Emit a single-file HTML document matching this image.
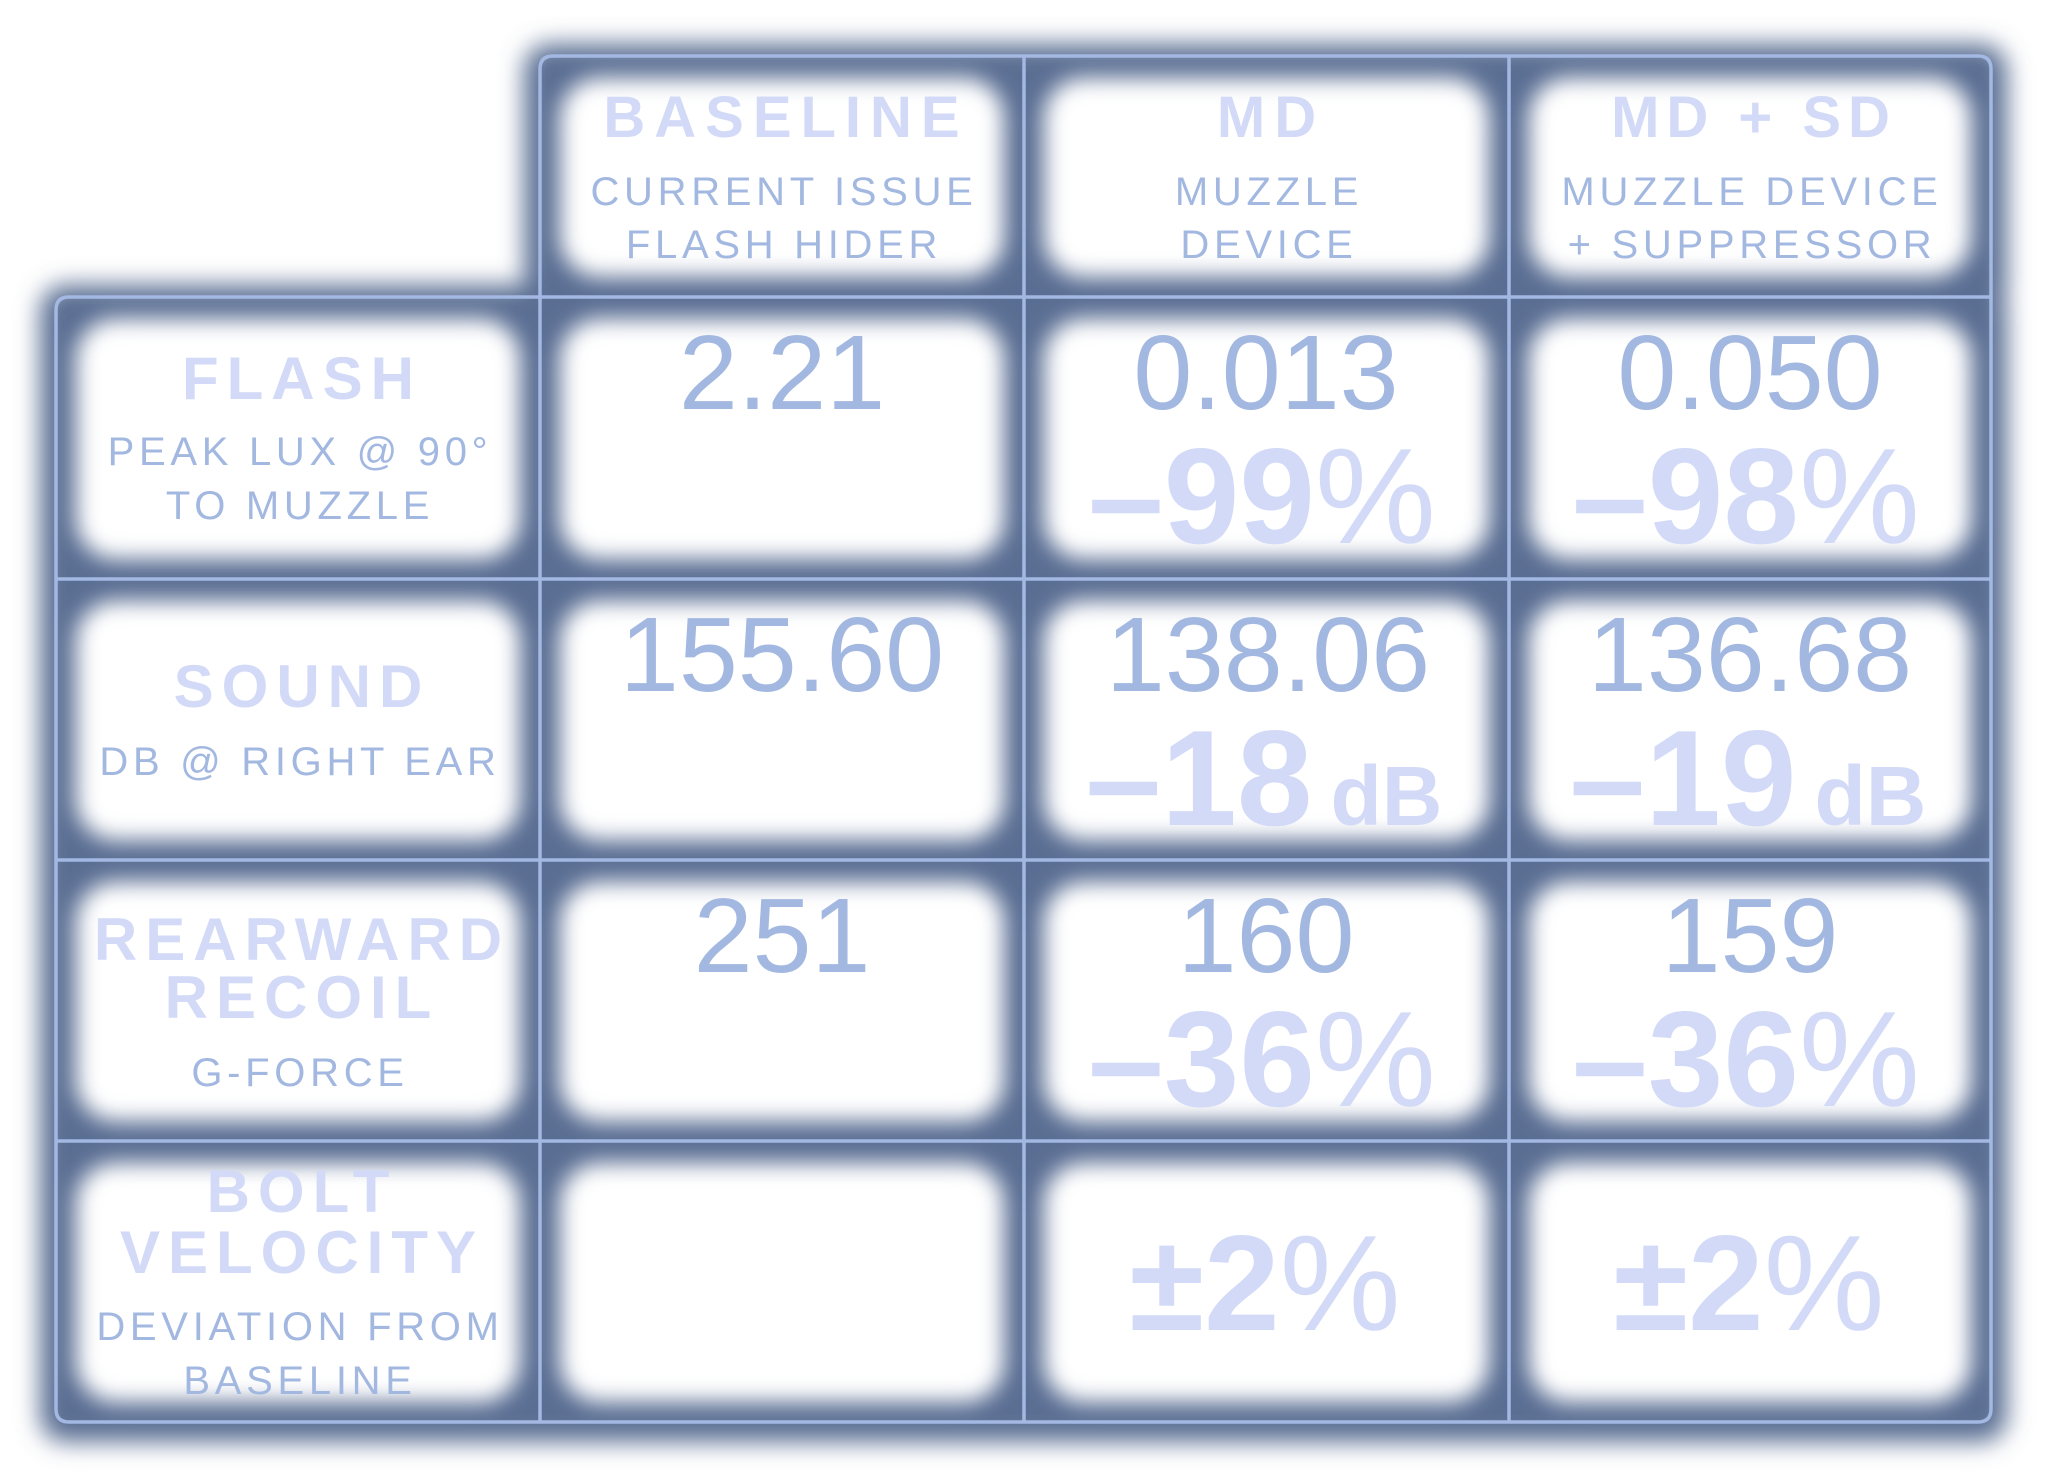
<!DOCTYPE html>
<html><head><meta charset="utf-8"><style>
html,body{margin:0;padding:0;background:#fff;}
svg{display:block;}
text{font-family:"Liberation Sans",Arial,sans-serif;}
.t{font-weight:bold;font-size:60px;fill:#d2daf7;letter-spacing:8px;text-anchor:middle;}
.h{font-weight:bold;font-size:58px;fill:#d2daf7;letter-spacing:9px;text-anchor:middle;}
.s{font-size:40px;fill:#a3b8e0;letter-spacing:4.7px;text-anchor:middle;}
.n{font-size:106px;fill:#a3b8e0;text-anchor:middle;}
.b{font-weight:bold;font-size:136px;fill:#d2daf7;text-anchor:middle;}
.p{font-weight:normal;}
.u{font-size:84px;}
</style></head><body>
<svg width="2048" height="1478" viewBox="0 0 2048 1478" xmlns="http://www.w3.org/2000/svg">
<defs>
<filter id="b1" filterUnits="userSpaceOnUse" x="0" y="0" width="2048" height="1478"><feGaussianBlur stdDeviation="12"/></filter>
<filter id="b2" filterUnits="userSpaceOnUse" x="0" y="0" width="2048" height="1478"><feGaussianBlur stdDeviation="11"/></filter>
</defs>
<rect x="0" y="0" width="2048" height="1478" fill="#fff"/>
<g filter="url(#b1)" fill="#5a6e93">
<rect x="524" y="44" width="1483" height="270" rx="26"/>
<rect x="40" y="285" width="1967" height="1157" rx="26"/>
</g>
<g filter="url(#b2)" fill="#fff">
<!-- header row -->
<rect x="560" y="78" width="444" height="199" rx="40"/>
<rect x="1044" y="78" width="445" height="199" rx="40"/>
<rect x="1529" y="78" width="442" height="199" rx="40"/>
<!-- rows -->
<rect x="76" y="319" width="444" height="240" rx="40"/>
<rect x="560" y="319" width="444" height="240" rx="40"/>
<rect x="1044" y="319" width="445" height="240" rx="40"/>
<rect x="1529" y="319" width="442" height="240" rx="40"/>

<rect x="76" y="601" width="444" height="239" rx="40"/>
<rect x="560" y="601" width="444" height="239" rx="40"/>
<rect x="1044" y="601" width="445" height="239" rx="40"/>
<rect x="1529" y="601" width="442" height="239" rx="40"/>

<rect x="76" y="882" width="444" height="239" rx="40"/>
<rect x="560" y="882" width="444" height="239" rx="40"/>
<rect x="1044" y="882" width="445" height="239" rx="40"/>
<rect x="1529" y="882" width="442" height="239" rx="40"/>

<rect x="76" y="1163" width="444" height="239" rx="40"/>
<rect x="560" y="1163" width="444" height="239" rx="40"/>
<rect x="1044" y="1163" width="445" height="239" rx="40"/>
<rect x="1529" y="1163" width="442" height="239" rx="40"/>
</g>
<g stroke="#a3b8e2" stroke-width="3.5" fill="none">
<path d="M56 310 Q56 297 69 297 L540 297 L540 69 Q540 56 553 56 L1978 56 Q1991 56 1991 69 L1991 1409 Q1991 1422 1978 1422 L69 1422 Q56 1422 56 1409 Z"/>
<line x1="540" y1="297" x2="1991" y2="297"/>
<line x1="56" y1="579" x2="1991" y2="579"/>
<line x1="56" y1="860" x2="1991" y2="860"/>
<line x1="56" y1="1141" x2="1991" y2="1141"/>
<line x1="540" y1="297" x2="540" y2="1422"/>
<line x1="1024" y1="56" x2="1024" y2="1422"/>
<line x1="1509" y1="56" x2="1509" y2="1422"/>
</g>

<!-- column headers -->
<text class="h" x="786" y="137">BASELINE</text>
<text class="s" x="784" y="205">CURRENT ISSUE</text>
<text class="s" x="784" y="258">FLASH HIDER</text>

<text class="h" x="1271" y="137">MD</text>
<text class="s" x="1269" y="205">MUZZLE</text>
<text class="s" x="1269" y="258">DEVICE</text>

<text class="h" x="1754" y="137" style="letter-spacing:7px">MD + SD</text>
<text class="s" x="1752" y="205">MUZZLE DEVICE</text>
<text class="s" x="1752" y="258">+ SUPPRESSOR</text>

<!-- row headers -->
<text class="t" x="302" y="399">FLASH</text>
<text class="s" x="300" y="465">PEAK LUX @ 90°</text>
<text class="s" x="300" y="519">TO MUZZLE</text>

<text class="t" x="302" y="707">SOUND</text>
<text class="s" x="300" y="775">DB @ RIGHT EAR</text>

<text class="t" x="302" y="960">REARWARD</text>
<text class="t" x="302" y="1018">RECOIL</text>
<text class="s" x="300" y="1086">G-FORCE</text>

<text class="t" x="302" y="1212">BOLT</text>
<text class="t" x="302" y="1273">VELOCITY</text>
<text class="s" x="300" y="1340">DEVIATION FROM</text>
<text class="s" x="300" y="1394">BASELINE</text>

<!-- values row 1 -->
<text class="n" x="782" y="409">2.21</text>
<text class="n" x="1266" y="409">0.013</text>
<text class="b" x="1262" y="543">–99<tspan class="p">%</tspan></text>
<text class="n" x="1750" y="409">0.050</text>
<text class="b" x="1746" y="543">–98<tspan class="p">%</tspan></text>

<!-- values row 2 -->
<text class="n" x="782" y="691">155.60</text>
<text class="n" x="1268" y="691">138.06</text>
<text class="b" x="1264" y="825">–18<tspan class="u" dx="18">dB</tspan></text>
<text class="n" x="1750" y="691">136.68</text>
<text class="b" x="1748" y="825">–19<tspan class="u" dx="18">dB</tspan></text>

<!-- values row 3 -->
<text class="n" x="782" y="972">251</text>
<text class="n" x="1266" y="972">160</text>
<text class="b" x="1262" y="1106">–36<tspan class="p">%</tspan></text>
<text class="n" x="1750" y="972">159</text>
<text class="b" x="1746" y="1106">–36<tspan class="p">%</tspan></text>

<!-- values row 4 -->
<text class="b" x="1265" y="1330">±2<tspan class="p">%</tspan></text>
<text class="b" x="1749" y="1330">±2<tspan class="p">%</tspan></text>
</svg>
</body></html>
